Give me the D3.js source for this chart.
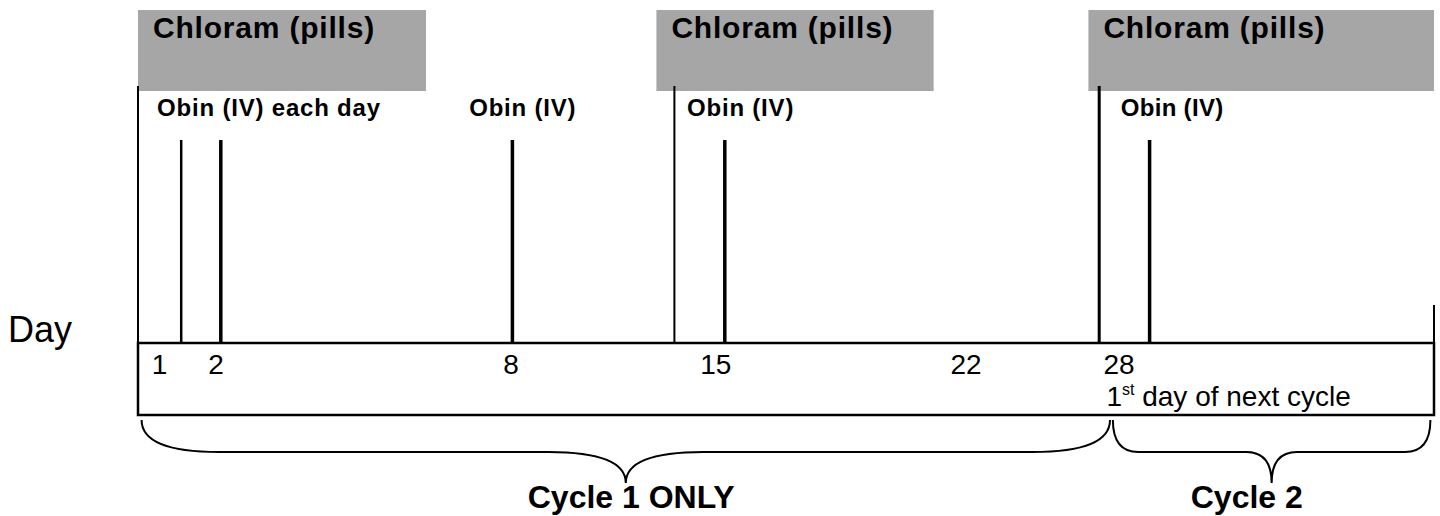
<!DOCTYPE html>
<html>
<head>
<meta charset="utf-8">
<script src="https://cdn.jsdelivr.net/npm/d3@7/dist/d3.min.js"></script>
<style>
  html, body { margin: 0; padding: 0; background: #fff; }
  svg { display: block; font-family: "Liberation Sans", Arial, sans-serif; }
</style>
</head>
<body>
<div id="chart"></div>
<script>
'use strict';

// schedule, in day units along the (schematic) timeline
var chloramLabel = 'Chloram (pills)';
var chloramFrom = [0, 14.4, 26.4];
var chloramTo = [8.0, 22.1, 36];
var chloramStartLines = [0, 14.9, 26.7];

var obinDoses = [1.2, 2.3, 10.4, 16.3, 28.1];
var obinLabels = ['Obin (IV) each day', 'Obin (IV)', 'Obin (IV)', 'Obin (IV)'];
var obinLabelAt = [0.53, 9.2, 15.25, 27.3];

var dayTicks = ['1', '2', '8', '15', '22', '28'];
var dayTickAt = [0.6, 2.17, 10.36, 16.05, 23.0, 27.25];
var nextCycleNote = 26.9;

var cycleLabels = ['Cycle 1 ONLY', 'Cycle 2'];
var cycleFrom = [0.1, 27.08];
var cycleTo = [27.0, 35.9];
var cycleLabelAt = [13.7, 30.8];

var width = 1440, height = 516;

var svg = d3.select('#chart').append('svg')
  .attr('width', width)
  .attr('height', height);

var x = d3.scaleLinear().domain([0, 36]).range([138, 1434]);

var boxTop = 343, boxBottom = 415;

// grey chloram blocks
var blocks = svg.append('g');
chloramFrom.forEach(function(d, i) {
  blocks.append('rect')
    .attr('x', x(d))
    .attr('y', 10)
    .attr('width', x(chloramTo[i]) - x(d))
    .attr('height', 81)
    .attr('fill', '#a6a6a6');
  blocks.append('text')
    .attr('x', x(d) + 15)
    .attr('y', 38)
    .attr('font-size', '30px')
    .attr('font-weight', 'bold')
    .attr('letter-spacing', '0.8px')
    .text(chloramLabel);
});

// start-of-chloram lines
svg.append('g').selectAll('line')
  .data(chloramStartLines)
  .enter().append('line')
  .attr('x1', function(d) { return x(d); })
  .attr('x2', function(d) { return x(d); })
  .attr('y1', 86)
  .attr('y2', boxTop)
  .attr('stroke', '#000')
  .attr('stroke-width', function(d, i) { return i === 2 ? 3 : 2; });

// obin dose lines
svg.append('g').selectAll('line')
  .data(obinDoses)
  .enter().append('line')
  .attr('x1', function(d) { return x(d); })
  .attr('x2', function(d) { return x(d); })
  .attr('y1', 140)
  .attr('y2', boxTop)
  .attr('stroke', '#000')
  .attr('stroke-width', function(d, i) { return i === 0 ? 2.5 : 3.5; });

svg.append('g').selectAll('text')
  .data(obinLabels)
  .enter().append('text')
  .attr('x', function(d, i) { return x(obinLabelAt[i]); })
  .attr('y', 116)
  .attr('font-size', '24px')
  .attr('font-weight', 'bold')
  .attr('letter-spacing', function(d, i) { return i === 3 ? '0.3px' : '0.8px'; })
  .text(function(d) { return d; });

// day strip
svg.append('rect')
  .attr('x', x(0))
  .attr('y', boxTop)
  .attr('width', x(36) - x(0))
  .attr('height', boxBottom - boxTop)
  .attr('fill', 'none')
  .attr('stroke', '#000')
  .attr('stroke-width', 2.5);

svg.append('line')
  .attr('x1', x(36)).attr('x2', x(36))
  .attr('y1', 305).attr('y2', boxTop)
  .attr('stroke', '#000')
  .attr('stroke-width', 2);

svg.append('text')
  .attr('x', 8)
  .attr('y', 342)
  .attr('font-size', '36px')
  .text('Day');

svg.append('g').selectAll('text')
  .data(dayTicks)
  .enter().append('text')
  .attr('x', function(d, i) { return x(dayTickAt[i]); })
  .attr('y', 374)
  .attr('text-anchor', 'middle')
  .attr('font-size', '28px')
  .text(function(d) { return d; });

var note = svg.append('text')
  .attr('x', x(nextCycleNote))
  .attr('y', 406)
  .attr('font-size', '28px');
note.append('tspan').text('1');
note.append('tspan').attr('font-size', '16px').attr('dy', -11).text('st');
note.append('tspan').attr('dy', 11).text(' day of next cycle');

// braces under the strip
function bracePath(x0, x1) {
  var yTop = 420, yMid = 452, yTip = 483;
  var c = (x1 - x0) * 0.08;
  var xm = (x0 + x1) / 2;
  var p = d3.path();
  p.moveTo(x0, yTop);
  p.quadraticCurveTo(x0, yMid, x0 + c, yMid);
  p.lineTo(xm - c, yMid);
  p.quadraticCurveTo(xm, yMid, xm, yTip);
  p.quadraticCurveTo(xm, yMid, xm + c, yMid);
  p.lineTo(x1 - c, yMid);
  p.quadraticCurveTo(x1, yMid, x1, yTop);
  return p.toString();
}

var braces = svg.append('g');
cycleLabels.forEach(function(label, i) {
  braces.append('path')
    .attr('d', bracePath(x(cycleFrom[i]), x(cycleTo[i])))
    .attr('fill', 'none')
    .attr('stroke', '#000')
    .attr('stroke-width', 2);
  braces.append('text')
    .attr('x', x(cycleLabelAt[i]))
    .attr('y', 508)
    .attr('text-anchor', 'middle')
    .attr('font-size', '32px')
    .attr('font-weight', 'bold')
    .text(label);
});
</script>
</body>
</html>
